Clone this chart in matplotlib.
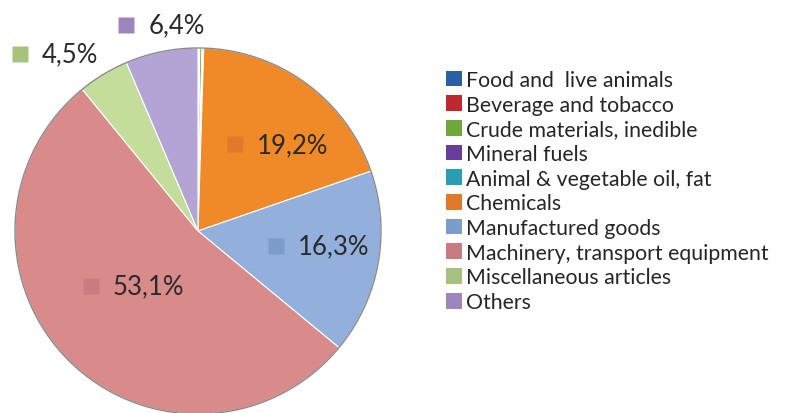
import numpy as np
import matplotlib
matplotlib.use('Agg')
import matplotlib.pyplot as plt
from matplotlib.patches import Patch
from matplotlib.transforms import ScaledTranslation

categories = ['Food and  live animals', 'Beverage and tobacco', 'Crude materials, inedible',
              'Mineral fuels', 'Animal & vegetable oil, fat', 'Chemicals',
              'Manufactured goods', 'Machinery, transport equipment',
              'Miscellaneous articles', 'Others']
shares = [0.1, 0.05, 0.2, 0.05, 0.1, 19.2, 16.3, 53.1, 4.5, 6.4]
labelled = ['Chemicals', 'Manufactured goods', 'Machinery, transport equipment',
            'Miscellaneous articles', 'Others']

pie_colors = ['#3f6fb0', '#c0504d', '#7fae45', '#7a5aa6', '#3fa6c0',
              '#f08a28', '#93b0dd', '#d98b8b', '#c4dd9a', '#b4a4d6']
legend_colors = ['#2a5fa5', '#c0282d', '#6fa83a', '#6a3d9a', '#2a9db5',
                 '#e0792a', '#7c9ccb', '#c87c80', '#a6c27d', '#9d85bd']

# label placement: radius factor and angle nudge (degrees)
label_r = [0.64, 0.66, 0.465, 1.22, 1.138]
label_nudge = [6, -3, 4.6, -6.4, 3.3]

plt.rcParams['font.family'] = ['Lato', 'DejaVu Sans']

fig = plt.figure(figsize=(7.87, 4.14), dpi=100)
ax = fig.add_axes([15 / 787, -1 / 414, 366 / 787, 366 / 414])

wedges, _ = ax.pie(shares, colors=pie_colors, startangle=90, counterclock=False,
                   radius=1.0, wedgeprops=dict(edgecolor='white', linewidth=0.8))
ax.set_xlim(-1, 1)
ax.set_ylim(-1, 1)
ax.set_aspect('equal')
ax.axis('off')
# outer rim
ax.add_patch(plt.Circle((0, 0), 1.0, fill=False, edgecolor='#8a8a8a', linewidth=1.0,
                        clip_on=False))

total = float(np.sum(shares))
cum = np.cumsum([0] + shares)
for name, rf, nd in zip(labelled, label_r, label_nudge):
    i = categories.index(name)
    mid = (cum[i] + cum[i + 1]) / 2 / total * 360 + nd
    a = np.radians(mid)
    cx, cy = rf * np.sin(a), rf * np.cos(a)
    txt = f'{shares[i]:.1f}%'.replace('.', ',')
    off = ScaledTranslation(-42 / 100, 0, fig.dpi_scale_trans)
    ax.plot([cx], [cy], marker='s', markersize=11.5, color=legend_colors[i],
            markeredgecolor='none', transform=ax.transData + off, clip_on=False)
    ax.annotate(txt, xy=(cx, cy), xytext=(-20, 0), textcoords='offset pixels',
                ha='left', va='center', fontsize=18.5, color='#2a2a2a',
                annotation_clip=False)

handles = [Patch(facecolor=c, edgecolor='none') for c in legend_colors]
leg = fig.legend(handles, categories, loc='upper left',
                 bbox_to_anchor=(446 / 787, 1 - 71 / 414), frameon=False,
                 fontsize=15.3, handlelength=0.76, handleheight=0.76,
                 handletextpad=0.2, labelspacing=0.22, borderaxespad=0, borderpad=0)
for t in leg.get_texts():
    t.set_color('#262626')

fig.savefig('out.png', dpi=100)
